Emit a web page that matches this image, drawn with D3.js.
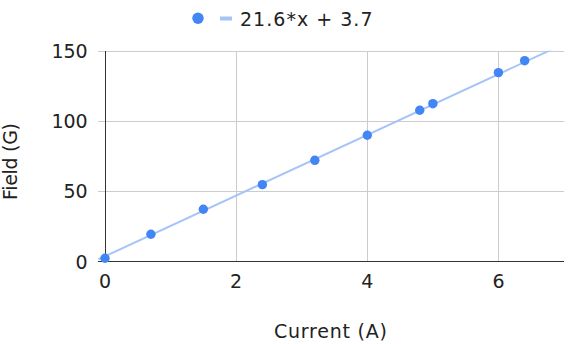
<!DOCTYPE html>
<html>
<head>
<meta charset="utf-8">
<script src="https://cdn.jsdelivr.net/npm/d3@7"></script>
<style>
  html, body { margin: 0; padding: 0; background: #fff; }
  svg { display: block; }
  text { font-family: "DejaVu Sans", Verdana, sans-serif; font-size: 19px; fill: #222; }
</style>
</head>
<body>
<svg id="chart" width="571" height="344"></svg>
<script>
// ---- data ----
const current = [0, 0.7, 1.5, 2.4, 3.2, 4.0, 4.8, 5.0, 6.0, 6.4];
const field = [2.3, 19.4, 37.2, 54.7, 72.0, 89.8, 107.6, 112.3, 134.4, 142.9];
const trendSlope = 21.6;
const trendIntercept = 3.7;
const xTicks = [0, 2, 4, 6];
const yTicks = [0, 50, 100, 150];
const legendLabel = "21.6*x + 3.7";
const xTitle = "Current (A)";
const yTitle = "Field (G)";

// ---- layout ----
const svg = d3.select("#chart");
const pL = 105, pR = 564, pT = 50.7, pB = 261.5;
const x = d3.scaleLinear().domain([0, 7]).range([pL, pR]);
const y = d3.scaleLinear().domain([0, 150]).range([pB, pT]);
const dotColor = "#4285f4";
const trendColor = "#a6c4f8";

// gridlines
const gy = d3.axisLeft(y).tickValues(yTicks.filter(d => d !== 0))
  .tickSize(-(pR - pL + 7)).tickFormat("");
svg.append("g").attr("transform", `translate(${pL - 7},0)`).call(gy)
  .call(g => g.select(".domain").remove())
  .call(g => g.selectAll("line").attr("stroke", "#cccccc").attr("stroke-width", 1)
      .attr("shape-rendering", "crispEdges"));

const gx = d3.axisBottom(x).tickValues(xTicks.filter(d => d !== 0))
  .tickSize(-(pB - pT)).tickFormat("");
svg.append("g").attr("transform", `translate(0,${pB})`).call(gx)
  .call(g => g.select(".domain").remove())
  .call(g => g.selectAll("line").attr("stroke", "#cccccc").attr("stroke-width", 1)
      .attr("shape-rendering", "crispEdges"));

// axis lines
svg.append("line").attr("x1", pL - 7).attr("x2", pR).attr("y1", y(0)).attr("y2", y(0))
  .attr("stroke", "#333").attr("stroke-width", 1).attr("shape-rendering", "crispEdges");
svg.append("line").attr("x1", x(0)).attr("x2", x(0)).attr("y1", y(150)).attr("y2", y(0))
  .attr("stroke", "#333").attr("stroke-width", 1).attr("shape-rendering", "crispEdges");

// tick labels
svg.append("g").selectAll("text").data(yTicks).join("text")
  .attr("x", pL - 17.3).attr("y", d => y(d) + 7)
  .attr("text-anchor", "end").text(d => d);
svg.append("g").selectAll("text").data(xTicks).join("text")
  .attr("x", d => x(d)).attr("y", 288.3)
  .attr("text-anchor", "middle").text(d => d);

// titles
svg.append("text").attr("x", 274).attr("y", 338.3)
  .attr("textLength", 113).attr("lengthAdjust", "spacing").text(xTitle);
svg.append("text").attr("transform", "translate(16.7,200) rotate(-90)")
  .attr("textLength", 77).attr("lengthAdjust", "spacing").text(yTitle);

// trendline
svg.append("clipPath").attr("id", "clip").append("rect")
  .attr("x", pL - 7).attr("y", pT).attr("width", pR - pL + 7).attr("height", pB - pT + 1);
const trendX = [-0.1, 7];
svg.append("path").attr("clip-path", "url(#clip)")
  .datum(trendX)
  .attr("d", d3.line().x(d => x(d)).y(d => y(trendSlope * d + trendIntercept)))
  .attr("fill", "none").attr("stroke", trendColor).attr("stroke-width", 2);

// points
svg.append("g").selectAll("circle").data(current.map((c, i) => [c, field[i]])).join("circle")
  .attr("cx", d => x(d[0])).attr("cy", d => y(d[1])).attr("r", 4.7).attr("fill", dotColor);

// legend
svg.append("circle").attr("cx", 198).attr("cy", 18.3).attr("r", 5.7).attr("fill", dotColor);
svg.append("line").attr("x1", 220).attr("x2", 232).attr("y1", 18.5).attr("y2", 18.5)
  .attr("stroke", trendColor).attr("stroke-width", 4);
svg.append("text").attr("x", 240).attr("y", 25.5)
  .attr("textLength", 132.5).attr("lengthAdjust", "spacing").text(legendLabel);
</script>
</body>
</html>
